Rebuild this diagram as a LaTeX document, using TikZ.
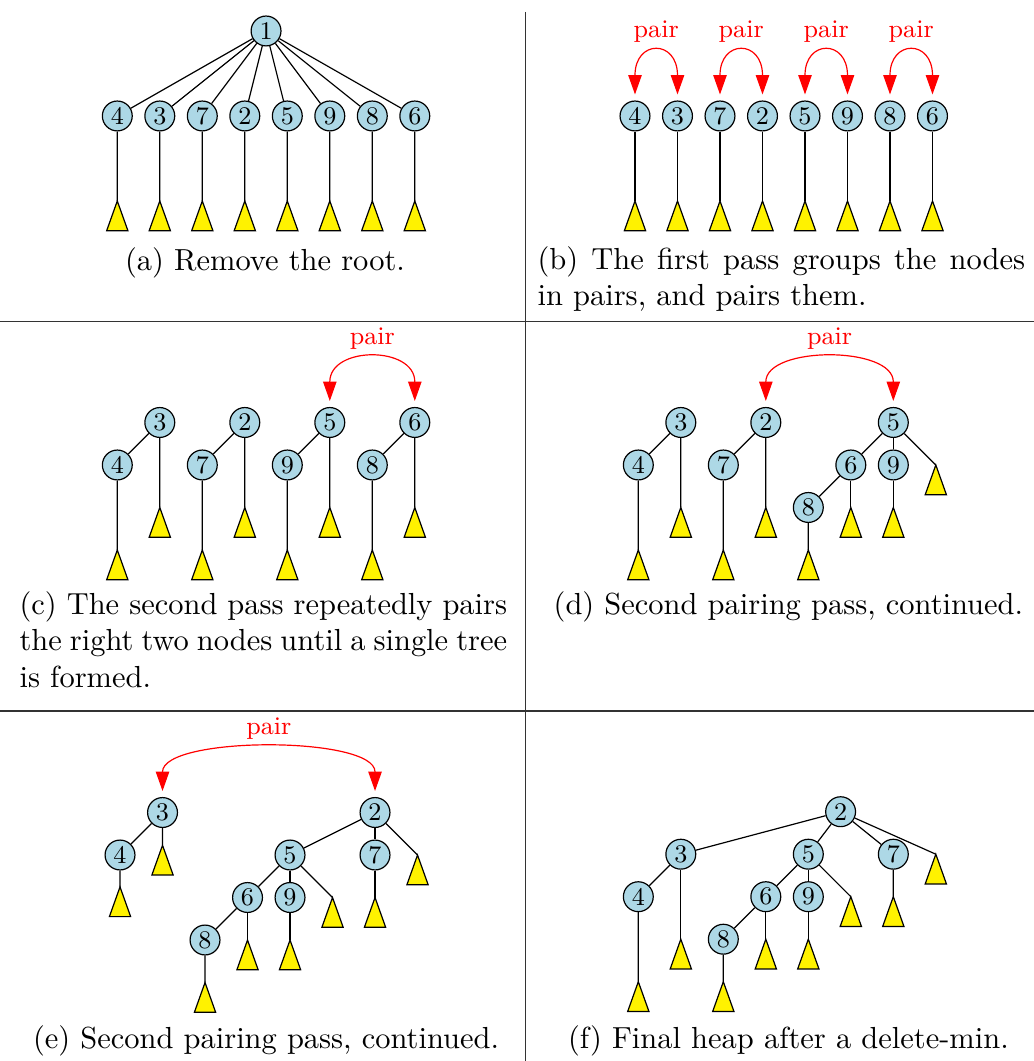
\documentclass[tikz,border=0pt]{standalone}
\usepackage{tikz}
\usetikzlibrary{arrows.meta}
\definecolor{lightblue}{RGB}{173,216,230}
\def\subtree{-- ++(0.25,-0.7) -- ++(-0.5,0) -- cycle}
\def\pairs#1#2{\draw[pairarrow] ([yshift=2pt]#1.north) to[out=90,in=90,distance=0.65cm] node[above] (p#1) {pair} ([yshift=2pt]#2.north);}
\tikzset{
  key/.style={circle,draw,fill=lightblue,minimum size=10pt,inner sep=0pt,font=\fontsize{8.5}{10}\selectfont},
  subtree/.style={draw,fill=yellow},
  pairarrow/.style={red,{Triangle[length=6.5pt,width=4.5pt]}-{Triangle[length=6.5pt,width=4.5pt]},font=\fontsize{8.5}{10}\selectfont},
  caption/.style={inner sep=0pt,font=\fontsize{10.2}{12.25}\selectfont},
  rule/.style={black!80}
}

\begin{document}
\begin{tikzpicture}[x=0.5cm,y=0.5cm]
\useasboundingbox (0,0) rectangle (24.329,-24.965);
\draw[rule] (12.369,-0.282) -- (12.369,-24.965);
\draw[rule] (0,-7.565) -- (24.329,-7.565);
\draw[rule] (0,-16.729) -- (24.329,-16.729);

\begin{scope}[shift={(2.760,-2.729)}]
\node[key] (a1) at (3.5,2) {1};
\foreach \k [count=\i from 0] in {4,3,7,2,5,9,8,6} {
  \node[key] (a\k) at (\i,0) {\k};
  \coordinate (ta\k) at (\i,-2);
  \draw (a1) -- (a\k) -- (ta\k);
  \draw[subtree] (ta\k) \subtree;
}
\end{scope}

\begin{scope}[shift={(14.941,-2.729)}]
\foreach \k [count=\i from 0] in {4,3,7,2,5,9,8,6} {
  \node[key] (b\k) at (\i,0) {\k};
  \coordinate (tb\k) at (\i,-2);
  \draw (b\k) -- (tb\k);
  \draw[subtree] (tb\k) \subtree;
}
\pairs{b4}{b3} \pairs{b7}{b2} \pairs{b5}{b9} \pairs{b8}{b6}
\end{scope}

\begin{scope}[shift={(2.760,-10.941)}]
\foreach \r/\l [count=\i from 0] in {3/4,2/7,5/9,6/8} {
  \node[key] (c\r) at (2*\i+1,1) {\r};
  \node[key] (c\l) at (2*\i,0) {\l};
  \coordinate (tc\r) at (2*\i+1,-1);
  \coordinate (tc\l) at (2*\i,-2);
  \draw (tc\r) -- (c\r) -- (c\l) -- (tc\l);
  \draw[subtree] (tc\r) \subtree;
  \draw[subtree] (tc\l) \subtree;
}
\pairs{c5}{c6}
\end{scope}

\begin{scope}[shift={(15.019,-10.941)}]
\foreach \r/\l [count=\i from 0] in {3/4,2/7} {
  \node[key] (d\r) at (2*\i+1,1) {\r};
  \node[key] (d\l) at (2*\i,0) {\l};
  \coordinate (td\r) at (2*\i+1,-1);
  \coordinate (td\l) at (2*\i,-2);
  \draw (td\r) -- (d\r) -- (d\l) -- (td\l);
  \draw[subtree] (td\r) \subtree;
  \draw[subtree] (td\l) \subtree;
}
\node[key] (d5) at (6,1) {5};
\node[key] (d6) at (5,0) {6};
\node[key] (d9) at (6,0) {9};
\node[key] (d8) at (4,-1) {8};
\coordinate (td5) at (7,0);
\coordinate (td6) at (5,-1);
\coordinate (td9) at (6,-1);
\coordinate (td8) at (4,-2);
\draw (d5) -- (d6) -- (d8) -- (td8);
\draw (d5) -- (d9) -- (td9);
\draw (d5) -- (td5);
\draw (d6) -- (td6);
\foreach \t in {td5,td6,td9,td8} \draw[subtree] (\t) \subtree;
\pairs{d2}{d5}
\end{scope}

\begin{scope}[shift={(2.824,-20.118)}]
\node[key] (e3) at (1,1) {3};
\node[key] (e4) at (0,0) {4};
\node[key] (e2) at (6,1) {2};
\node[key] (e5) at (4,0) {5};
\node[key] (e7) at (6,0) {7};
\node[key] (e6) at (3,-1) {6};
\node[key] (e9) at (4,-1) {9};
\node[key] (e8) at (2,-2) {8};
\coordinate (te3) at (1,0.23);
\coordinate (te4) at (0,-0.75);
\coordinate (te2) at (7,0);
\coordinate (te5) at (5,-1);
\coordinate (te7) at (6,-1);
\coordinate (te6) at (3,-2);
\coordinate (te9) at (4,-2);
\coordinate (te8) at (2,-3);
\draw (te3) -- (e3) -- (e4) -- (te4);
\draw (e2) -- (e5) -- (e6) -- (e8) -- (te8);
\draw (e2) -- (e7) -- (te7);
\draw (e2) -- (te2);
\draw (e5) -- (e9) -- (te9);
\draw (e5) -- (te5);
\draw (e6) -- (te6);
\foreach \t in {te3,te4,te2,te5,te7,te6,te9,te8} \draw[subtree] (\t) \subtree;
\pairs{e3}{e2}
\end{scope}

\begin{scope}[shift={(15.019,-21.099)}]
\node[key] (f2) at (4.76,2) {2};
\node[key] (f3) at (1,1) {3};
\node[key] (f5) at (4,1) {5};
\node[key] (f7) at (6,1) {7};
\node[key] (f4) at (0,0) {4};
\node[key] (f6) at (3,0) {6};
\node[key] (f9) at (4,0) {9};
\node[key] (f8) at (2,-1) {8};
\coordinate (tf2) at (7,1);
\coordinate (tf3) at (1,-1);
\coordinate (tf5) at (5,0);
\coordinate (tf7) at (6,0);
\coordinate (tf4) at (0,-2);
\coordinate (tf6) at (3,-1);
\coordinate (tf9) at (4,-1);
\coordinate (tf8) at (2,-2);
\draw (f2) -- (f3) -- (f4) -- (tf4);
\draw (f3) -- (tf3);
\draw (f2) -- (f5) -- (f6) -- (f8) -- (tf8);
\draw (f5) -- (f9) -- (tf9);
\draw (f5) -- (tf5);
\draw (f6) -- (tf6);
\draw (f2) -- (f7) -- (tf7);
\draw (f2) -- (tf2);
\foreach \t in {tf2,tf3,tf5,tf7,tf4,tf6,tf9,tf8} \draw[subtree] (\t) \subtree;
\end{scope}

\node[caption,anchor=base] (capa) at (6.235,-6.376) {(a) Remove the root.};
\node[caption,anchor=base west,text width=163.2pt,align=justify] (capb) at (12.635,-6.33) {(b) The first pass groups the nodes in pairs, and pairs them.};
\node[caption,anchor=base west,text width=163.2pt,align=justify] (capc) at (0.447,-14.45) {(c) The second pass repeatedly pairs the right two nodes until a single tree is formed.};
\node[caption,anchor=base] (capd) at (18.55,-14.45) {(d) Second pairing pass, continued.};
\node[caption,anchor=base] (cape) at (6.259,-24.659) {(e) Second pairing pass, continued.};
\node[caption,anchor=base] (capf) at (18.55,-24.659) {(f) Final heap after a delete-min.};
\end{tikzpicture}
\end{document}
